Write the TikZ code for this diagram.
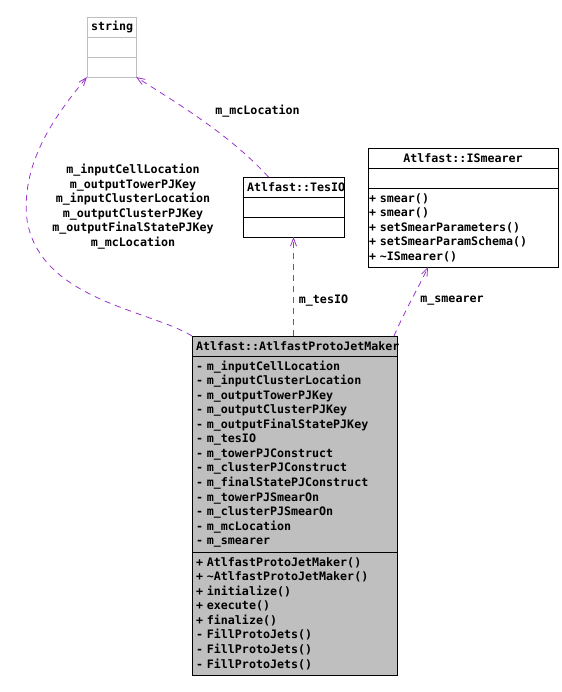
\documentclass[tikz,border=0pt]{standalone}
\usepackage{fontspec}
\setmonofont{DejaVu Sans Mono}
\usetikzlibrary{positioning,arrows.meta}
\definecolor{umlgray}{HTML}{BFBFBF}
\definecolor{usecol}{HTML}{9A32CD}

\begin{document}
\begin{tikzpicture}[x=1bp,y=-1bp,
	every node/.style={font=\fontsize{11.7}{14.6}\selectfont\ttfamily\bfseries},
	part/.style={draw, line width=0.8bp, outer sep=0pt, inner xsep=4bp, inner ysep=0pt,
		minimum height=20bp, text width=#1, align=left, anchor=north},
	uses/.style={draw=usecol, line width=0.8bp, dash pattern=on 6bp off 5bp,
		-{Straight Barb[length=8bp,width=6bp]}}]
\useasboundingbox (0,0) rectangle (562,692);

% string
\node[part=41bp, align=center, draw=umlgray] (str) at (111.5,17) {string};
\node[part=41bp, draw=umlgray, below=0pt of str] (str-a) {};
\node[part=41bp, draw=umlgray, below=0pt of str-a] (str-o) {};

% Atlfast::TesIO
\node[part=93bp] (tes) at (293.5,177) {Atlfast::TesIO};
\node[part=93bp, below=0pt of tes] (tes-a) {};
\node[part=93bp, below=0pt of tes-a] (tes-o) {};

% Atlfast::ISmearer
\node[part=182bp, align=center] (ism) at (463,148) {Atlfast::ISmearer};
\node[part=182bp, below=0pt of ism] (ism-a) {};
\node[part=188bp, inner xsep=1bp, minimum height=79bp, below=0pt of ism-a] (ism-o)
	{+ smear()\\+ smear()\\+ setSmearParameters()\\+ setSmearParamSchema()\\+ \textasciitilde ISmearer()};

% Atlfast::AtlfastProtoJetMaker
\node[part=197bp, fill=umlgray] (mk) at (294.5,336) {Atlfast::AtlfastProtoJetMaker};
\node[part=197bp, fill=umlgray, minimum height=196bp, below=0pt of mk] (mk-a)
	{- m\_inputCellLocation\\- m\_inputClusterLocation\\- m\_outputTowerPJKey\\- m\_outputClusterPJKey\\- m\_outputFinalStatePJKey\\- m\_tesIO\\- m\_towerPJConstruct\\- m\_clusterPJConstruct\\- m\_finalStatePJConstruct\\- m\_towerPJSmearOn\\- m\_clusterPJSmearOn\\- m\_mcLocation\\- m\_smearer};
\node[part=197bp, fill=umlgray, minimum height=123bp, below=0pt of mk-a] (mk-o)
	{+ AtlfastProtoJetMaker()\\+ \textasciitilde AtlfastProtoJetMaker()\\+ initialize()\\+ execute()\\+ finalize()\\- FillProtoJets()\\- FillProtoJets()\\- FillProtoJets()};

% usage edges
\draw[uses] (mk.north west) .. controls (150,310) and (40,300) .. (27,220)
	.. controls (20,160) and (60,110) .. (str-o.south west);
\draw[uses] ([xshift=-25bp]tes.north) .. controls (230,135) and (180,105) .. (str-o.south east);
\draw[uses] (mk.north -| tes-o.south) -- (tes-o.south);
\draw[uses] ([xshift=-3bp]mk.north east) .. controls (405,310) and (420,285) .. ([xshift=-35bp]ism-o.south);

% labels
\node[align=center] (lbl-str) at (133,206.5)
	{m\_inputCellLocation\\m\_outputTowerPJKey\\m\_inputClusterLocation\\m\_outputClusterPJKey\\m\_outputFinalStatePJKey\\m\_mcLocation};
\node (lbl-mc) at (257.5,111) {m\_mcLocation};
\node (lbl-tes) at (323.5,301) {m\_tesIO};
\node (lbl-sm) at (452,301) {m\_smearer};
\end{tikzpicture}
\end{document}
